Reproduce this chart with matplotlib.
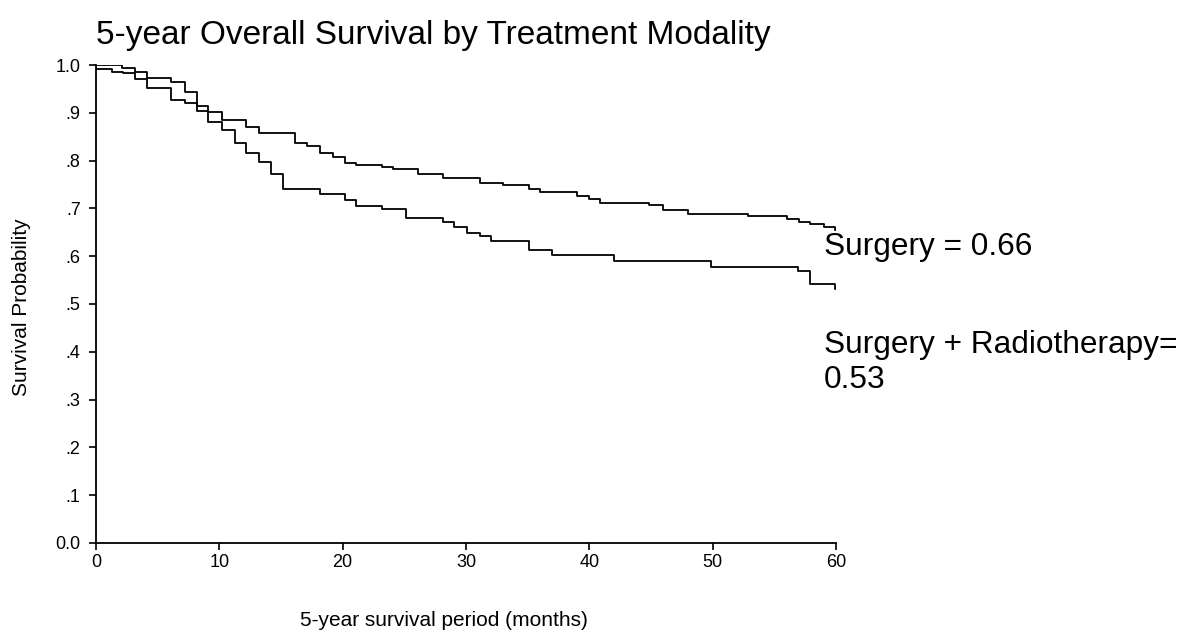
import matplotlib.pyplot as plt

plt.rcParams['font.family'] = ['Liberation Sans', 'DejaVu Sans']

# Kaplan-Meier step points (months, survival probability)
surgery_t = [0, 0, 1.3, 2.2, 3.2, 4.1, 6.1, 7.2, 8.2, 9.1, 10.2, 12.2, 13.2,
             16.1, 17.1, 18.2, 19.2, 20.2, 21.1, 23.2, 24.1, 26.1, 28.1, 31.1,
             33.0, 35.1, 36.0, 39.0, 40.0, 40.9, 44.8, 46.0, 48.0, 52.9, 56.0,
             57.0, 57.9, 59.0, 59.9, 60]
surgery_s = [1.0, 0.991, 0.986, 0.983, 0.970, 0.951, 0.927, 0.920, 0.914,
             0.901, 0.885, 0.871, 0.857, 0.836, 0.831, 0.815, 0.808, 0.794,
             0.791, 0.786, 0.782, 0.772, 0.763, 0.754, 0.749, 0.741, 0.734,
             0.725, 0.719, 0.711, 0.707, 0.697, 0.688, 0.684, 0.677, 0.672,
             0.667, 0.662, 0.655, 0.655]

radio_t = [0, 2.1, 3.2, 4.1, 6.1, 7.2, 8.2, 9.1, 10.2, 11.3, 12.2, 13.2, 14.2,
           15.2, 18.2, 20.2, 21.1, 23.2, 25.1, 28.1, 29.0, 30.1, 31.1, 32.0,
           35.1, 37.0, 42.0, 49.9, 56.9, 57.9, 59.9, 60]
radio_s = [1.0, 0.993, 0.985, 0.973, 0.965, 0.943, 0.904, 0.880, 0.864, 0.836,
           0.815, 0.798, 0.772, 0.740, 0.731, 0.718, 0.705, 0.698, 0.679, 0.672,
           0.662, 0.649, 0.642, 0.632, 0.614, 0.603, 0.591, 0.578, 0.568, 0.542,
           0.531, 0.531]

x_ticks = [0, 10, 20, 30, 40, 50, 60]
y_ticks = [0.0, 0.1, 0.2, 0.3, 0.4, 0.5, 0.6, 0.7, 0.8, 0.9, 1.0]
y_labels = ['0.0', '.1', '.2', '.3', '.4', '.5', '.6', '.7', '.8', '.9', '1.0']

fig = plt.figure(figsize=(12.01, 6.4), dpi=100)
ax = fig.add_axes([0.0799, 0.1516, 0.6162, 0.7468])

ax.step(surgery_t, surgery_s, where='post', color='black', linewidth=1.3)
ax.step(radio_t, radio_s, where='post', color='black', linewidth=1.3)

ax.set_xlim(0, 60)
ax.set_ylim(0, 1.0)
ax.set_xticks(x_ticks)
ax.set_yticks(y_ticks)
ax.set_yticklabels(y_labels)

for side in ['top', 'right']:
    ax.spines[side].set_visible(False)
for side in ['left', 'bottom']:
    ax.spines[side].set_linewidth(1.3)
ax.tick_params(direction='out', length=5, width=1.2)
ax.tick_params(axis='x', labelsize=13, pad=3)
ax.tick_params(axis='y', labelsize=13, pad=6)

fig.text(0.08, 0.931, '5-year Overall Survival by Treatment Modality',
         fontsize=24, va='baseline', ha='left')
fig.text(0.018, 0.52, 'Survival Probability', rotation=90,
         fontsize=15, va='center', ha='center')
fig.text(0.25, 0.022, '5-year survival period (months)',
         fontsize=15, va='baseline', ha='left')

fig.text(0.686, 0.6016, 'Surgery = 0.66', fontsize=22.8, va='baseline')
fig.text(0.686, 0.448, 'Surgery + Radiotherapy=', fontsize=22.8, va='baseline')
fig.text(0.686, 0.394, '0.53', fontsize=22.8, va='baseline')

fig.savefig('out.png', dpi=100)
